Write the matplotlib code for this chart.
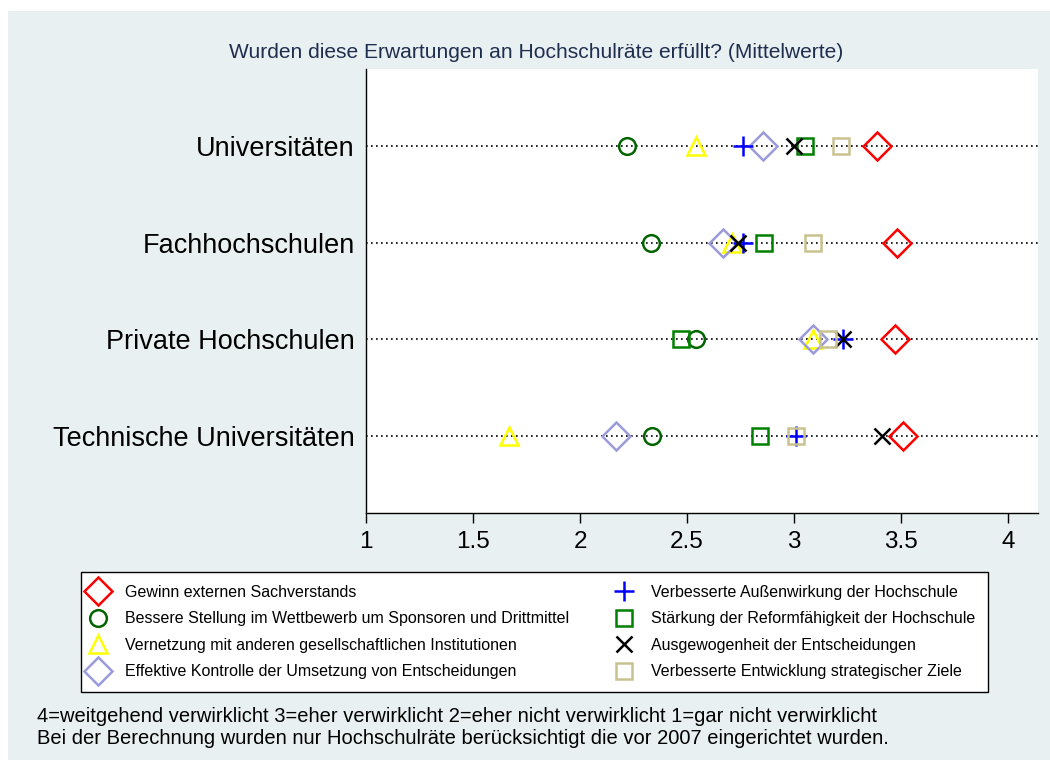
import matplotlib

matplotlib.use("Agg")
import matplotlib.pyplot as plt  # noqa: E402
from matplotlib.lines import Line2D  # noqa: E402
from matplotlib.patches import Rectangle  # noqa: E402

plt.rcParams["font.family"] = ["Liberation Sans", "DejaVu Sans"]

categories = ["Universitäten", "Fachhochschulen", "Private Hochschulen", "Technische Universitäten"]
cat_pos = [4, 3, 2, 1]

series_labels = [
    "Gewinn externen Sachverstands",
    "Bessere Stellung im Wettbewerb um Sponsoren und Drittmittel",
    "Vernetzung mit anderen gesellschaftlichen Institutionen",
    "Effektive Kontrolle der Umsetzung von Entscheidungen",
    "Verbesserte Außenwirkung der Hochschule",
    "Stärkung der Reformfähigkeit der Hochschule",
    "Ausgewogenheit der Entscheidungen",
    "Verbesserte Entwicklung strategischer Ziele",
]

# means per category (Uni, FH, Private, TU)
gewinn = [3.39, 3.48, 3.47, 3.51]
bessere = [2.22, 2.33, 2.54, 2.335]
vernetzung = [2.54, 2.71, 3.09, 1.67]
kontrolle = [2.855, 2.67, 3.09, 2.17]
aussenwirkung = [2.76, 2.76, 3.23, 3.01]
reform = [3.05, 2.86, 2.47, 2.84]
ausgewogen = [3.0, 2.74, 3.23, 3.41]
strategie = [3.22, 3.09, 3.16, 3.01]

xticks = [1, 1.5, 2, 2.5, 3, 3.5, 4]
xtick_labels = ["1", "1.5", "2", "2.5", "3", "3.5", "4"]

title = "Wurden diese Erwartungen an Hochschulräte erfüllt? (Mittelwerte)"
note1 = "4=weitgehend verwirklicht 3=eher verwirklicht 2=eher nicht verwirklicht 1=gar nicht verwirklicht"
note2 = "Bei der Berechnung wurden nur Hochschulräte berücksichtigt die vor 2007 eingerichtet wurden."

styles = [
    dict(marker="D", color="#ff0000", ms=14),
    dict(marker="o", color="#006400", ms=12),
    dict(marker="^", color="#ffff00", ms=13),
    dict(marker="D", color="#9b9bdb", ms=14),
    dict(marker="+", color="#0000ff", ms=14),
    dict(marker="s", color="#008000", ms=12),
    dict(marker="x", color="#000000", ms=12),
    dict(marker="s", color="#c9c28e", ms=12),
]
all_series = [gewinn, bessere, vernetzung, kontrolle, aussenwirkung, reform, ausgewogen, strategie]

W, H = 1050, 770
fig = plt.figure(figsize=(W / 100, H / 100), dpi=100, facecolor="white")
fig.patches.append(Rectangle((8 / W, 1 - 760 / H), (W - 8) / W, (760 - 11) / H,
                             transform=fig.transFigure, facecolor="#e9f0f2",
                             edgecolor="none", zorder=-10))

ax = fig.add_axes([366 / W, 1 - 513 / H, (1038 - 366) / W, (513 - 69) / H])
ax.set_facecolor("white")
ax.set_xlim(1, 4.14)
ax.set_ylim(0.21, 4.79)

for y in cat_pos:
    ax.axhline(y, color="black", linestyle=(0, (1, 2)), linewidth=1.2, zorder=1)

handles = []
for vals, st, lab in zip(all_series, styles, series_labels):
    ax.plot(vals, cat_pos, linestyle="none", marker=st["marker"], markersize=st["ms"],
            markerfacecolor="none", markeredgecolor=st["color"], markeredgewidth=1.8, zorder=3)
    handles.append(Line2D([], [], linestyle="none", marker=st["marker"], markersize=st["ms"],
                          markerfacecolor="none", markeredgecolor=st["color"],
                          markeredgewidth=1.8, label=lab))

for side in ("top", "right"):
    ax.spines[side].set_visible(False)
ax.spines["left"].set_linewidth(1.0)
ax.spines["bottom"].set_linewidth(1.0)

ax.set_xticks(xticks)
ax.set_xticklabels(xtick_labels, fontsize=17.5)
ax.tick_params(axis="x", direction="out", length=7, width=1, pad=6)
ax.set_yticks(cat_pos)
ax.set_yticklabels(categories, fontsize=19.5)
ax.tick_params(axis="y", length=0, pad=8)

fig.text(536 / W, 1 - 52 / H, title, ha="center", va="center", fontsize=15.1, color="#1f2e4f")

fig.legend(handles=handles, loc="upper left", ncol=2,
           bbox_to_anchor=(81 / W, 1 - 572 / H),
           fontsize=11.5, frameon=True, fancybox=False, edgecolor="black", framealpha=1,
           borderpad=0.8, labelspacing=0.72, handletextpad=1.43,
           handlelength=0.52, columnspacing=3.2, borderaxespad=0)

fig.text(37 / W, 1 - 717 / H, note1, ha="left", va="center", fontsize=14.5)
fig.text(37 / W, 1 - 738 / H, note2, ha="left", va="center", fontsize=14.5)

fig.savefig("out.png", dpi=100, facecolor="white")
